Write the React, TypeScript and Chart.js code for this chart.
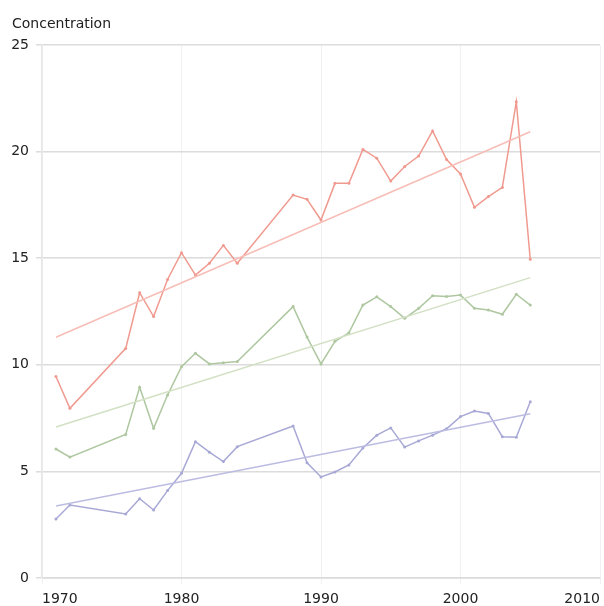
import React, { useEffect, useRef } from "react";
import { Chart, registerables } from "chart.js";

Chart.register(...registerables);

const years = [1971, 1972, 1976, 1977, 1978, 1979, 1980, 1981, 1982, 1983, 1984, 1988, 1989, 1990, 1991, 1992, 1993, 1994, 1995, 1996, 1997, 1998, 1999, 2000, 2001, 2002, 2003, 2004, 2005];
const redValues = [9.45, 7.96, 10.77, 13.38, 12.26, 14.0, 15.26, 14.21, 14.76, 15.6, 14.76, 17.96, 17.76, 16.79, 18.51, 18.51, 20.1, 19.69, 18.62, 19.3, 19.79, 20.97, 19.63, 18.95, 17.39, 17.89, 18.32, 22.34, 14.95];
const greenValues = [6.05, 5.67, 6.73, 8.95, 7.02, 8.58, 9.91, 10.54, 10.04, 10.1, 10.15, 12.73, 11.3, 10.04, 11.1, 11.5, 12.8, 13.19, 12.73, 12.18, 12.65, 13.24, 13.2, 13.27, 12.65, 12.57, 12.37, 13.31, 12.8];
const blueValues = [2.77, 3.42, 3.0, 3.72, 3.19, 4.1, 4.91, 6.39, 5.9, 5.46, 6.16, 7.13, 5.4, 4.74, 4.97, 5.3, 6.1, 6.7, 7.04, 6.14, 6.43, 6.7, 7.0, 7.57, 7.83, 7.72, 6.63, 6.6, 8.27];

const trendYears = [1971, 2005];
const redTrend = [11.29, 20.93];
const greenTrend = [7.08, 14.09];
const blueTrend = [3.38, 7.7];

const xTicks = [1970, 1980, 1990, 2000, 2010];
const yTicks = [0, 5, 10, 15, 20, 25];
const yTitle = "Concentration";

const FONT = "'DejaVu Sans', Verdana, sans-serif";

const toPts = (xs: number[], ys: number[]) => xs.map((x, i) => ({ x, y: ys[i] }));

const titlePlugin = {
  id: "topTitle",
  afterDraw(chart: any) {
    const ctx = chart.ctx;
    ctx.save();
    ctx.font = `14px ${FONT}`;
    ctx.fillStyle = "#222";
    ctx.textAlign = "left";
    ctx.textBaseline = "alphabetic";
    ctx.fillText(yTitle, 12, 28);
    ctx.restore();
  },
};

export default function App() {
  const ref = useRef<HTMLCanvasElement | null>(null);
  useEffect(() => {
    if (!ref.current) return;
    const lineDs = (label: string, xs: number[], ys: number[], color: string, width: number, radius: number) => ({
      label,
      data: toPts(xs, ys),
      borderColor: color,
      backgroundColor: color,
      borderWidth: width,
      pointRadius: radius,
      pointBorderWidth: 0,
      tension: 0,
    });
    const chart = new Chart(ref.current, {
      type: "line",
      data: {
        datasets: [
          lineDs("red trend", trendYears, redTrend, "#f7bdb6", 1.5, 0),
          lineDs("green trend", trendYears, greenTrend, "#d2e0c4", 1.5, 0),
          lineDs("blue trend", trendYears, blueTrend, "#bcbce2", 1.5, 0),
          lineDs("red", years, redValues, "#f09a8f", 1.5, 1.5),
          lineDs("green", years, greenValues, "#aec7a0", 1.5, 1.5),
          lineDs("blue", years, blueValues, "#a8a8d6", 1.5, 1.5),
        ],
      },
      options: {
        animation: false,
        responsive: false,
        maintainAspectRatio: false,
        layout: { padding: { left: 0, right: 3, top: 45, bottom: 0 } },
        plugins: { legend: { display: false }, tooltip: { enabled: false }, title: { display: false } },
        scales: {
          x: {
            type: "linear",
            min: 1970,
            max: 2010,
            afterBuildTicks: (axis: any) => {
              axis.ticks = xTicks.map((v) => ({ value: v }));
            },
            afterFit: (axis: any) => {
              axis.height = 28;
              axis.paddingLeft = 0;
              axis.paddingRight = 0;
            },
            grid: { color: "#f1f1f1", lineWidth: 1, tickLength: 6, drawTicks: true },
            border: { color: "#e2e2e2", width: 1 },
            ticks: {
              align: "inner",
              padding: 7,
              color: "#222",
              font: { family: FONT, size: 14 },
              callback: (v: any) => String(v),
              maxRotation: 0,
            },
          },
          y: {
            type: "linear",
            min: 0,
            max: 25,
            afterBuildTicks: (axis: any) => {
              axis.ticks = yTicks.map((v) => ({ value: v }));
            },
            afterFit: (axis: any) => {
              axis.width = 42;
            },
            grid: { color: "#dcdcdc", lineWidth: 1.5, tickLength: 6 },
            border: { color: "#e6e6e6", width: 1.5 },
            ticks: {
              padding: 7,
              color: "#222",
              font: { family: FONT, size: 14 },
              callback: (v: any) => String(v),
            },
          },
        },
      } as any,
      plugins: [titlePlugin],
    });
    return () => chart.destroy();
  }, []);
  return (
    <div style={{ position: "absolute", left: 0, top: 0, width: 604, height: 606, background: "#fff" }}>
      <canvas ref={ref} width={604} height={606} style={{ display: "block", width: 604, height: 606 }} />
    </div>
  );
}
